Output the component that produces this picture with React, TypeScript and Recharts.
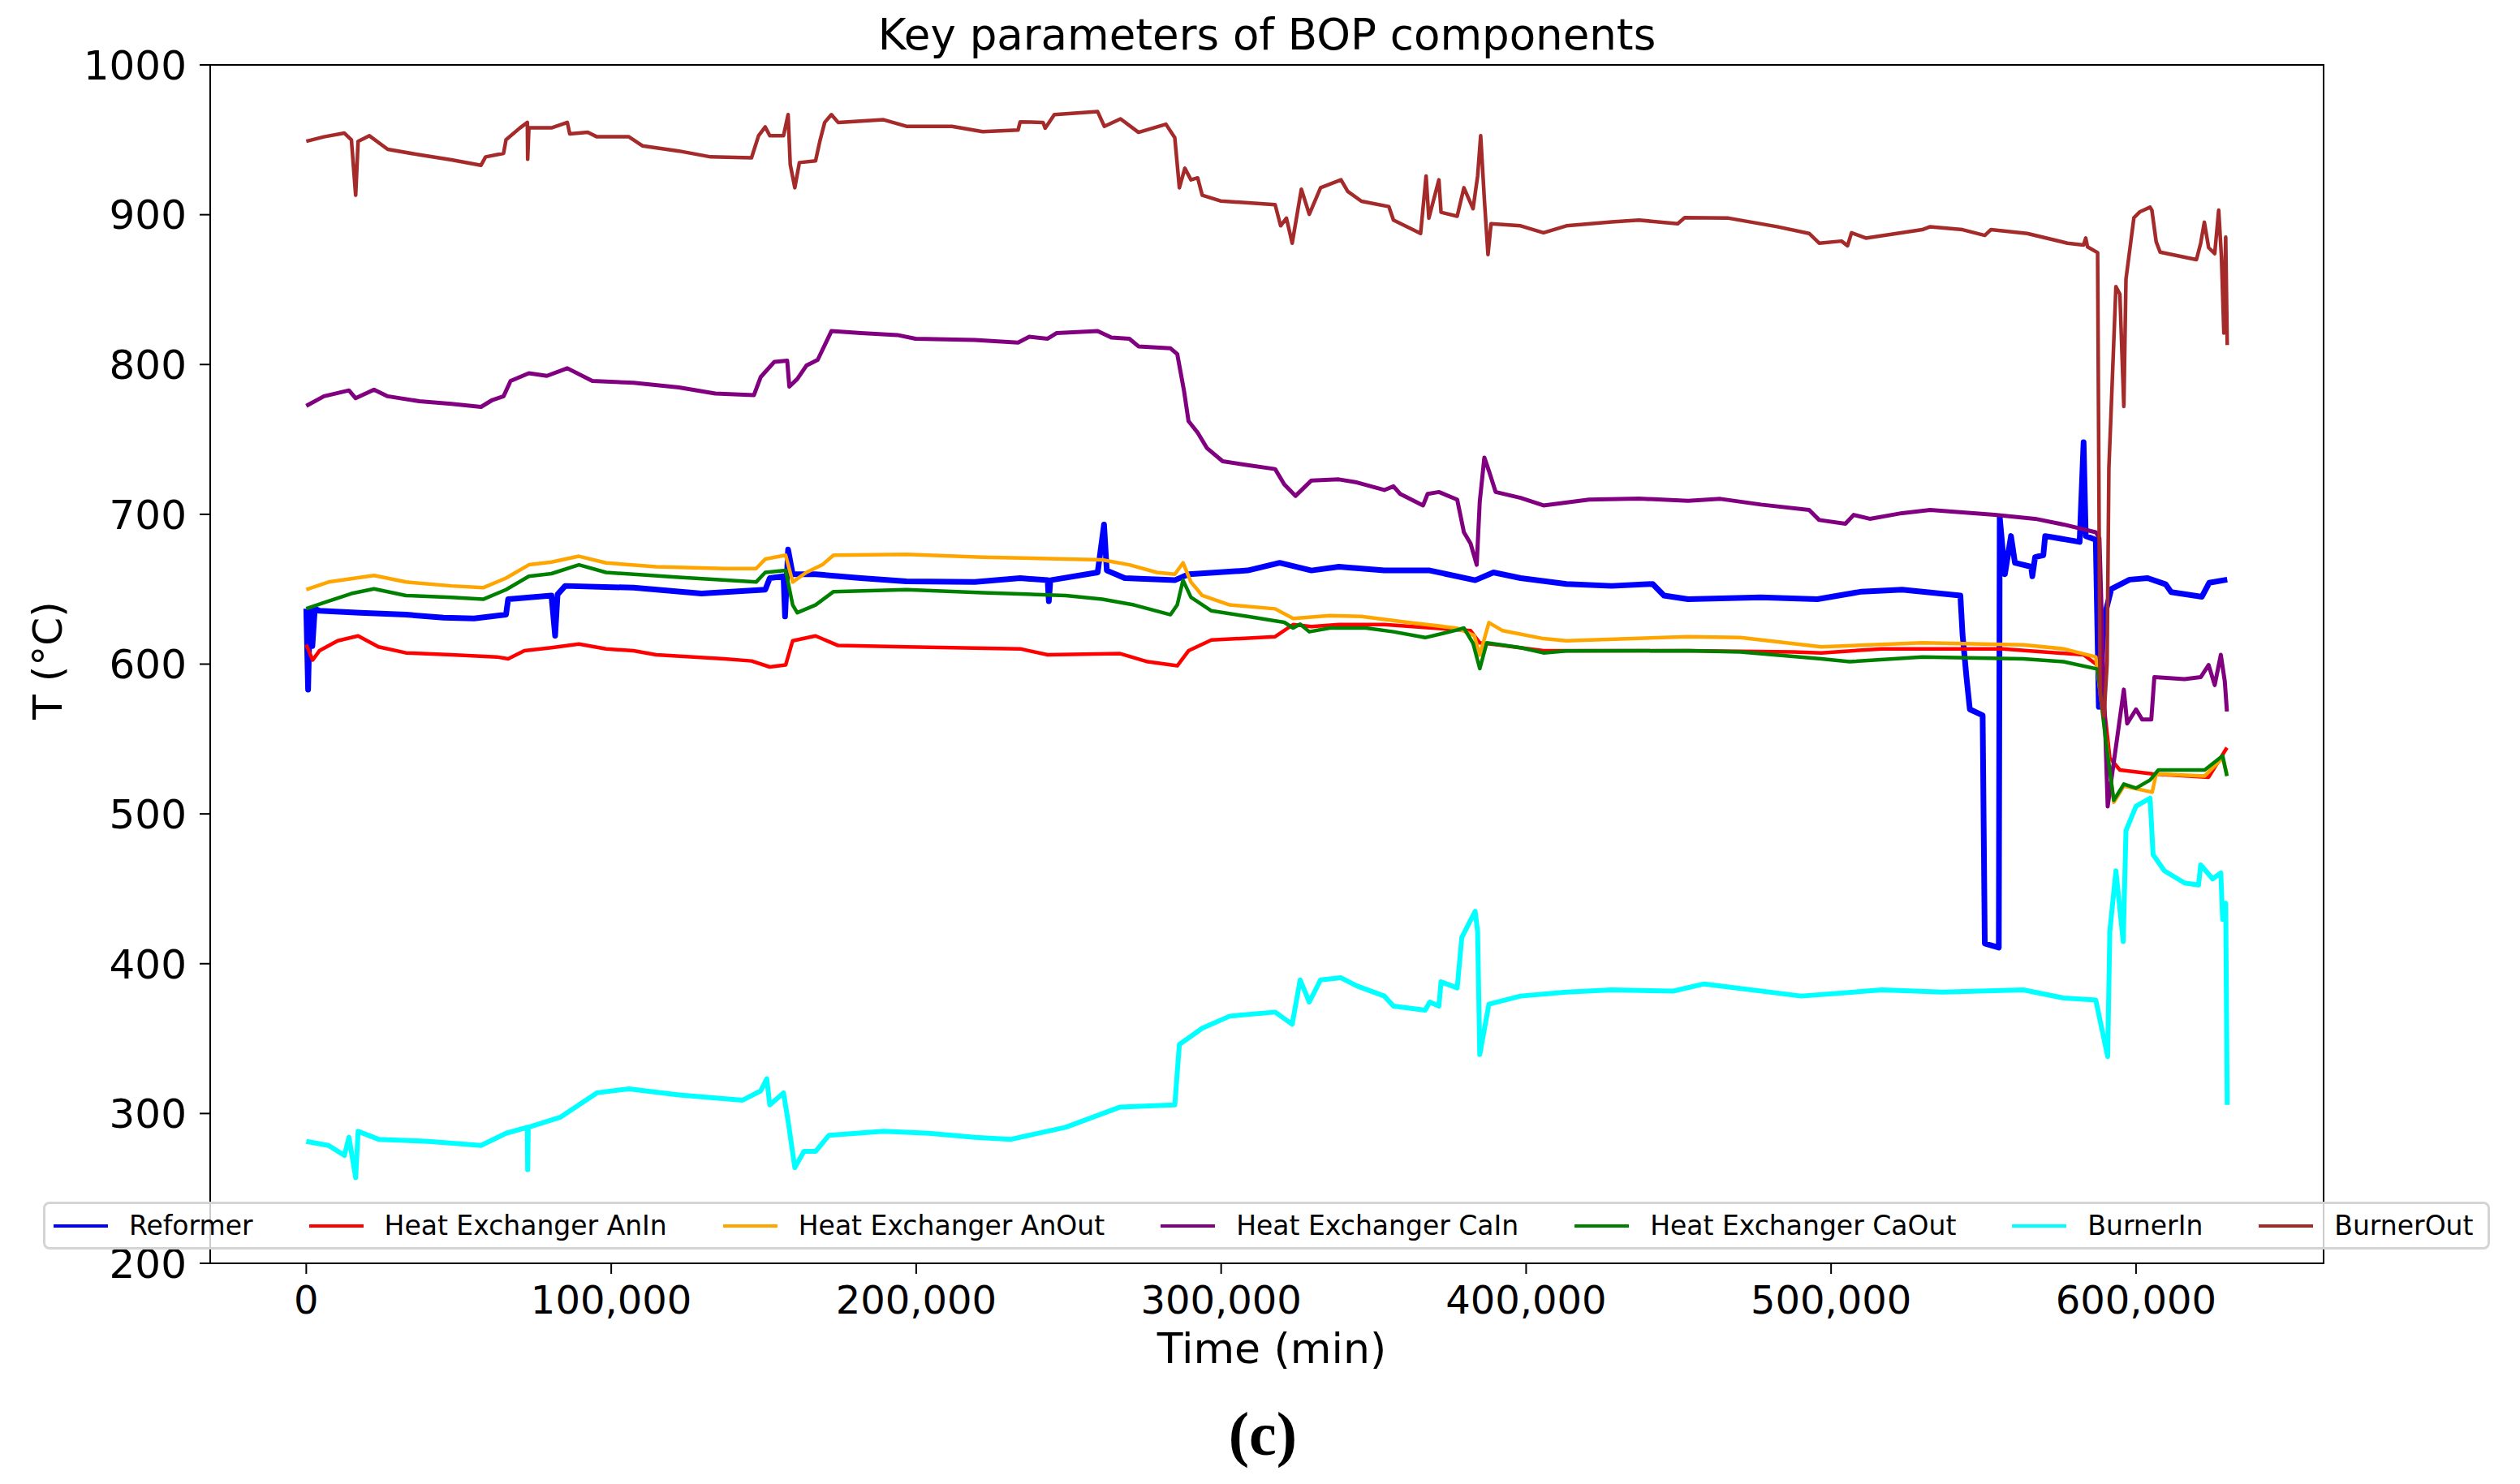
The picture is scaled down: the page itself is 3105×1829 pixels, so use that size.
import React from "react";
import {
  LineChart,
  Line,
  XAxis,
  YAxis,
  Legend,
  ReferenceArea,
} from "recharts";

// [time (thousand min), temperature (°C)]
const reformer: [number, number][] = [
  [0, 637], [0.6, 583], [1.2, 636], [2.0, 612], [2.8, 637], [4.3, 635.6], [17.7, 634.3],
  [32.7, 633], [45, 631], [55, 630.5], [65.5, 633], [66.2, 643.3], [80.4, 645.8], [81.6, 619],
  [82.4, 646.5], [84.9, 652.2], [107.3, 651], [129.6, 647.1], [150.5, 649.7], [152, 657.4],
  [156.5, 658.6], [157, 631.8], [158, 676.5], [159.5, 660], [167, 660], [181.9, 657.4],
  [196.8, 655.3], [219.2, 654.8], [234.1, 657.4], [243.1, 656], [243.5, 642], [244, 656],
  [259.5, 661.2], [261.6, 693.2], [262.5, 662.5], [268.4, 657.4], [284.8, 656], [289.3, 660],
  [308.7, 662.5], [319.2, 667.6], [329.6, 662.5], [338.6, 665], [353.5, 662.5], [368.4, 662.5],
  [383.3, 656], [389.3, 661.2], [398.2, 657.4], [413.2, 653.5], [428.1, 652.2], [441.5, 653.5],
  [445.2, 645.8], [453.1, 643.3], [477, 644.6], [495.5, 643.3], [510, 648.4], [523.3, 649.7],
  [542.4, 645.8], [543.1, 620], [544.4, 591.3], [545.5, 569.8], [549.7, 565.8], [550.4, 413.5],
  [555, 410.8], [555.3, 698.3], [557, 660], [559, 685.5], [560.3, 667.6], [565.6, 665],
  [566, 658.6], [566.9, 671.4], [569.6, 672.7], [570.2, 685.5], [581.5, 681.6], [582.8, 748.1],
  [583.5, 685.5], [586.8, 683], [587.8, 571.4], [589.6, 631.5], [591.9, 650.2], [597.9, 656.4],
  [603.8, 657.4], [609.7, 653.3], [611.5, 648.1], [621.6, 645], [624, 654.3], [629.9, 656.4],
];

const anIn: [number, number][] = [
  [0, 612.9], [2.1, 602.7], [4.3, 608.9], [10.3, 615.6], [17, 618.8], [23.7, 611.5],
  [32.7, 607.5], [47.6, 606.2], [62.5, 604.8], [66.2, 603.5], [71.5, 608.9], [80.4, 611],
  [89.4, 613.4], [98.3, 610.2], [107.3, 608.9], [114.7, 606.2], [137.1, 603.5], [146, 602.1],
  [152, 598.1], [157.2, 599.4], [159.5, 615.6], [167, 618.8], [174.4, 612.4], [196.8, 611.5],
  [219.2, 610.7], [234.1, 610.2], [243.1, 606.2], [266.9, 607], [275.9, 601.6], [285.6, 598.9],
  [289.3, 608.9], [296.8, 616.1], [317.7, 618.3], [323.6, 626.4], [329.6, 625], [338.6, 626.4],
  [353.5, 626.4], [368.4, 624.2], [381.8, 622.3], [384.8, 614.2], [390.8, 612.9], [405.7, 608.9],
  [453.1, 608.9], [487.5, 608.1], [496.8, 607.5], [516.7, 610.2], [556.3, 610.2], [582.8, 606.2],
  [588.1, 598.1], [591.4, 537.4], [594.7, 529.3], [605.3, 526.7], [623.8, 524.5], [629.8, 544.2],
];

const anOut: [number, number][] = [
  [0, 649.7], [7.3, 654.8], [22.2, 659.2], [32.7, 654.8], [47.6, 652.2], [58, 651],
  [65.5, 657.4], [73, 666.3], [80.4, 668.1], [89.4, 672], [98.3, 667.6], [114.7, 665],
  [137.1, 663.8], [147.5, 663.8], [150.5, 670.1], [157.2, 672.7], [159.5, 654.8], [164, 661.2],
  [169.2, 666.3], [172.9, 672.7], [196.8, 673.2], [221.8, 671.4], [261, 669.6], [269.9, 666.3],
  [278.9, 661.2], [284.8, 660], [287.5, 667.6], [290.1, 654.8], [293.8, 645.8], [302.8, 639.5],
  [317.7, 636.9], [323.6, 630.5], [335.6, 632.3], [346, 631.8], [361, 627.9], [377.4, 624],
  [383, 619], [384.8, 606], [387.8, 627.7], [392.3, 622.3], [405.7, 617], [413.2, 615.6],
  [453.1, 618.3], [470.3, 617.7], [496.8, 611.5], [529.9, 614.2], [563, 612.9], [576.2, 610.2],
  [586.8, 604.8], [589.5, 560], [592.7, 507.8], [596, 518.6], [605.3, 514.5], [606.6, 526.7],
  [622.5, 525.3], [628.4, 537.4], [629.8, 526.7],
];

const caIn: [number, number][] = [
  [0, 772.4], [5.8, 778.8], [14, 782.7], [16.2, 777.5], [22.2, 783.2], [26.7, 778.8],
  [37.1, 775.5], [47.6, 773.7], [57.3, 771.7], [61, 776.3], [64.7, 778.8], [67, 789],
  [73, 794.2], [78.9, 792.4], [85.6, 797.5], [93.8, 789], [107.3, 787.8], [122.2, 784.7],
  [134.1, 780.6], [146.8, 779.6], [149, 791.6], [153.5, 801.8], [157.7, 802.6], [158.4, 785.2],
  [161, 790.3], [164, 799.3], [167.7, 803.1], [172.2, 822.3], [181.9, 821], [193.8, 819.7],
  [199.8, 817.2], [219.2, 816.4], [233.4, 814.6], [237.1, 818.5], [243.1, 817.2], [246.1, 821],
  [259.5, 822.3], [264, 818], [269.9, 817.2], [272.9, 812.1], [283.4, 810.8], [285.6, 807],
  [287.8, 782.7], [289.3, 762.2], [292.3, 754.5], [295.3, 744.3], [300.5, 735.4], [308.7, 732.8],
  [317.7, 730.2], [320.7, 720], [324.4, 712.3], [329.6, 722.6], [338.6, 723.3], [344.5, 721.3],
  [353.5, 716.2], [356.5, 718.7], [358.7, 713.6], [366.2, 705.9], [367.7, 713.6], [371.4, 714.9],
  [377.4, 709.8], [379.6, 688], [381.8, 680.4], [383.8, 666.3], [384.8, 708.5], [386.3, 737.9],
  [387.8, 729], [390, 714.9], [398.2, 711], [405.7, 705.9], [420.6, 709.8], [437, 710.5],
  [453.1, 709], [463.7, 710.3], [477, 706.5], [492.8, 702.9], [496.1, 696.2], [504.7, 693.7],
  [507.4, 699.6], [512.7, 697], [523.3, 700.8], [532.5, 702.9], [543.1, 701.3], [553.7, 699.6],
  [566.9, 697], [576.2, 693.2], [586.8, 688], [588, 684], [589.2, 600], [590.7, 505],
  [596, 583], [597.1, 560.3], [600, 569.8], [602, 563], [605, 563], [606, 591.3],
  [615.9, 590], [621.2, 591.3], [623.8, 599.4], [625.8, 586], [627.8, 606.2], [629.1, 588.6],
  [629.8, 568.4],
];

const caOut: [number, number][] = [
  [0, 637], [7.3, 642], [14.8, 647.1], [22.2, 650.2], [32.7, 645.8], [47.6, 644.6],
  [58, 643.3], [65.5, 649.7], [73, 658.6], [80.4, 660.4], [89.4, 666.3], [98.3, 661.2],
  [122.2, 657.9], [147.5, 654.8], [150.5, 661.2], [157.2, 662.5], [159.5, 639.5], [161, 634.3],
  [167, 639.5], [172.9, 648.4], [196.8, 649.7], [221.8, 647.6], [249, 645.8], [261, 643.3],
  [271.4, 639.5], [283.4, 633], [285.6, 639.5], [287.5, 656], [290.1, 644.6], [296.8, 635.6],
  [308.7, 631.8], [320.7, 627.9], [323.6, 624.1], [325.9, 626.7], [328.9, 621.6], [335.6, 624.1],
  [347.5, 624.1], [356.5, 621.6], [366.9, 617.7], [377.4, 622.8], [379.6, 624.1], [382.6, 613.9],
  [384.8, 597], [387.1, 614.2], [398.2, 611], [405.7, 607.5], [413.2, 608.8], [453.1, 608.9],
  [470.3, 608.1], [496.8, 603.5], [506.1, 601.6], [529.9, 604.8], [563, 603.5], [576.2, 601.6],
  [587.4, 596.7], [590, 550], [592.7, 509.1], [596, 519.9], [600, 517.2], [604.6, 522.6],
  [607.3, 529.3], [622.5, 529.3], [628.4, 538.8], [629.8, 525.3],
];

const burnerIn: [number, number][] = [
  [0, 281.4], [7.3, 278.7], [12.5, 272], [14, 284.1], [16.2, 257.1], [17, 288.1],
  [23.7, 282.8], [40.1, 281.4], [57.3, 278.7], [65.5, 286.8], [72.5, 290.8], [72.6, 262.5],
  [72.8, 290.8], [83.4, 297.6], [95.3, 313.8], [105.8, 316.5], [122.2, 312.4], [143.1, 308.9],
  [149, 315.1], [151, 323.2], [152, 305.7], [156.5, 313.8], [158, 294.9], [160.2, 263.9],
  [163.2, 274.7], [167, 274.7], [171.4, 285.5], [189.3, 288.2], [204.2, 286.8], [219.2, 284.1],
  [231.1, 282.8], [249, 290.8], [266.9, 304.3], [284.8, 305.7], [286.3, 346.1], [293.8, 356.9],
  [302.8, 365], [317.7, 367.7], [323.3, 359.6], [325.9, 389.2], [328.9, 374.4], [332.6, 389.2],
  [339.3, 390.6], [344.5, 385.2], [353.5, 378.4], [356.5, 371.7], [366.9, 369], [368.4, 374.4],
  [371.4, 371.7], [372.1, 387.9], [377.4, 383.8], [378.9, 417.5], [383.3, 435], [384.1, 421.5],
  [384.8, 339.3], [387.8, 373], [398.2, 378.4], [413.2, 381.1], [428.1, 382.5], [448.2, 381.7],
  [458.4, 386.5], [490.2, 378.4], [516.7, 382.5], [536.5, 381.1], [563, 382.5], [576.2, 377.1],
  [586.8, 375.7], [590.7, 338], [591.4, 421.5], [593.4, 462], [595.8, 414.8], [596.7, 488.9],
  [600, 505.1], [604.6, 510.5], [605.6, 472.8], [609.3, 462], [615.9, 453.9], [620.5, 452.5],
  [621.2, 466], [625.1, 456.6], [627.8, 460.6], [628.4, 429.6], [629.4, 440.4], [629.9, 305.7],
];

const burnerOut: [number, number][] = [
  [0, 949], [5.8, 952], [12.5, 954.5], [14.8, 950], [16.2, 913], [17, 949], [20.7, 952.7],
  [26.7, 943.7], [37.1, 940], [47.6, 936.6], [57.3, 933], [58.8, 938.6], [64.7, 941],
  [65.5, 950], [70, 957.8], [72.5, 961.6], [72.6, 937], [73, 958], [80.4, 958], [85.6, 961.6],
  [86.4, 954], [92.3, 955], [95.3, 952], [105.8, 952], [110.2, 946], [122.2, 942.5],
  [132.6, 938.6], [146, 938], [148.3, 952.7], [150.5, 958.6], [152, 952.7], [156.5, 952.7],
  [158, 966.8], [158.7, 933.5], [160.2, 918], [161.7, 934.8], [167, 936], [168.4, 949],
  [170, 961.6], [172.2, 966.8], [174.4, 961.6], [189.3, 963.4], [196.8, 959], [211.7, 959],
  [221.8, 955.5], [233.4, 956.5], [234.1, 962], [241.6, 961.6], [242.3, 957.8], [245.3, 966.8],
  [259.5, 968.8], [261.7, 959], [267, 964], [272.9, 955], [281.9, 960.4], [284.8, 951.4],
  [286.3, 918], [288.1, 931], [290.1, 923.3], [292.3, 924.6], [293.8, 913], [299.8, 909.2],
  [317.7, 906.7], [319.5, 892.6], [321.4, 897.7], [323.3, 881], [326.3, 917], [328.9, 900.3],
  [332.6, 918], [339.3, 923.3], [341.5, 915.6], [346, 909], [355, 905.4], [356.5, 896.4],
  [365.4, 887.5], [367.2, 925.8], [368.1, 897.7], [371.4, 923.3], [372.1, 901.6], [377.4, 899],
  [379.6, 918], [382.6, 904], [384.1, 925.8], [385.1, 952.7], [386.3, 910.5], [387.5, 873.4],
  [388.5, 894], [398.2, 892.6], [405.7, 888], [413.2, 892.6], [428.1, 895.2], [437, 896.4],
  [449.7, 894], [452, 898], [466.4, 897.7], [482.3, 892], [492.8, 887.5], [496.1, 881],
  [503.4, 882.4], [505.4, 879.3], [506.7, 888], [511.4, 884.4], [529.9, 890], [532.5, 892],
  [543.1, 890], [550.4, 886.2], [552.4, 890], [564.3, 887.5], [577.5, 881], [582.8, 879.8],
  [583.5, 884.4], [584.1, 878.5], [587.4, 874.7], [588.2, 580], [589.5, 565], [590.5, 600],
  [591.1, 731], [593.4, 852], [594.7, 847], [596, 772], [596.7, 857], [599.3, 898],
  [601.3, 902], [604.6, 905], [605.2, 903], [606.6, 882], [607.9, 875], [619.8, 870],
  [621.2, 881], [622.4, 895], [623.8, 878], [625.8, 874], [627.1, 903], [628, 872],
  [628.8, 821], [629.4, 885], [629.9, 813],
];

const xTicks = [0, 100000, 200000, 300000, 400000, 500000, 600000];
const yTicks = [200, 300, 400, 500, 600, 700, 800, 900, 1000];

const series = [
  { name: "Reformer", color: "#0000ff", width: 7, points: reformer },
  { name: "Heat Exchanger AnIn", color: "#ff0000", width: 4.5, points: anIn },
  { name: "Heat Exchanger AnOut", color: "#ffa500", width: 4.5, points: anOut },
  { name: "Heat Exchanger CaIn", color: "#800080", width: 5, points: caIn },
  { name: "Heat Exchanger CaOut", color: "#008000", width: 4.5, points: caOut },
  { name: "BurnerIn", color: "#00ffff", width: 6, points: burnerIn },
  { name: "BurnerOut", color: "#a52a2a", width: 4.5, points: burnerOut },
];

const toData = (pts: [number, number][]) => pts.map(([t, v]) => ({ t: t * 1000, v }));

const FONT = "DejaVu Sans, Verdana, sans-serif";
const X_DOMAIN: [number, number] = [-31500, 661500];

function LegendBox() {
  return (
    <div
      style={{
        display: "flex",
        alignItems: "center",
        boxSizing: "border-box",
        width: "100%",
        height: "100%",
        border: "3px solid #d4d4d4",
        borderRadius: 8,
        background: "rgba(255,255,255,0.8)",
        paddingLeft: 10,
        fontFamily: FONT,
        fontSize: 33,
        color: "#000",
        whiteSpace: "nowrap",
      }}
    >
      {series.map((s) => (
        <div key={s.name} style={{ display: "flex", alignItems: "center", marginRight: 69 }}>
          <span style={{ display: "inline-block", width: 67, height: 4, background: s.color, marginRight: 26 }} />
          <span>{s.name}</span>
        </div>
      ))}
    </div>
  );
}

export default function App() {
  return (
    <div style={{ position: "absolute", left: 0, top: 0, width: 3105, height: 1829, background: "#fff" }}>
      <LineChart width={3105} height={1829} margin={{ top: 80, right: 242, bottom: 0, left: 0 }}>
        <XAxis
          type="number"
          dataKey="t"
          domain={X_DOMAIN}
          allowDataOverflow
          ticks={xTicks}
          interval={0}
          tickFormatter={(v: number) => v.toLocaleString("en-US")}
          tick={{ fontSize: 48, fill: "#000", fontFamily: FONT }}
          tickSize={13}
          tickMargin={15}
          height={272}
          axisLine={{ stroke: "#000", strokeWidth: 2 }}
          tickLine={{ stroke: "#000", strokeWidth: 2 }}
        />
        <YAxis
          type="number"
          domain={[200, 1000]}
          allowDataOverflow
          ticks={yTicks}
          interval={0}
          tick={{ fontSize: 50, fill: "#000", fontFamily: FONT }}
          tickSize={13}
          tickMargin={16}
          width={259}
          axisLine={{ stroke: "#000", strokeWidth: 2 }}
          tickLine={{ stroke: "#000", strokeWidth: 2 }}
        />
        <ReferenceArea
          x1={X_DOMAIN[0]}
          x2={X_DOMAIN[1]}
          y1={200}
          y2={1000}
          fill="none"
          fillOpacity={0}
          stroke="#000"
          strokeWidth={2}
        />
        {series.map((s) => (
          <Line
            key={s.name}
            name={s.name}
            data={toData(s.points)}
            dataKey="v"
            type="linear"
            stroke={s.color}
            strokeWidth={s.width}
            strokeLinejoin="round"
            dot={false}
            activeDot={false}
            isAnimationActive={false}
          />
        ))}
        <Legend
          layout="horizontal"
          verticalAlign="middle"
          align="center"
          content={() => <LegendBox />}
          wrapperStyle={{ left: 53, top: 1481, width: 3015, height: 59 }}
        />
      </LineChart>
      <svg
        width={3105}
        height={1829}
        style={{ position: "absolute", left: 0, top: 0, pointerEvents: "none" }}
      >
        <text x={1561} y={61} textAnchor="middle" fontFamily={FONT} fontSize={53} fill="#000">
          Key parameters of BOP components
        </text>
        <text x={1567} y={1680} textAnchor="middle" fontFamily={FONT} fontSize={52} fill="#000">
          Time (min)
        </text>
        <text
          x={76}
          y={814}
          textAnchor="middle"
          fontFamily={FONT}
          fontSize={50}
          fill="#000"
          transform="rotate(-90 76 814)"
        >
          T (°C)
        </text>
        <text
          x={1556}
          y={1793}
          textAnchor="middle"
          fontFamily="Liberation Serif, Times New Roman, serif"
          fontWeight="bold"
          fontSize={76}
          fill="#000"
        >
          (c)
        </text>
      </svg>
    </div>
  );
}
